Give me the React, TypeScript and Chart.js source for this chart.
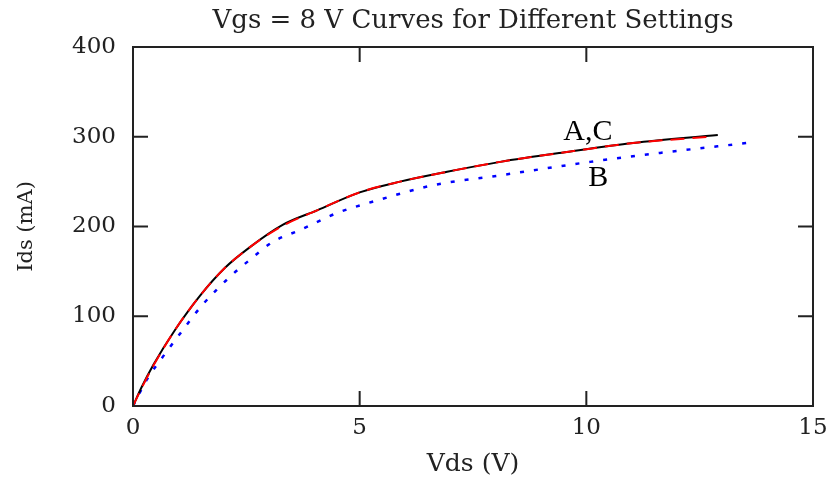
import React, { useEffect, useRef } from "react";
import { Chart, registerables } from "chart.js";

Chart.register(...registerables);

const titleText = "Vgs = 8 V Curves for Different Settings";
const xTitle = "Vds (V)";
const yTitle = "Ids (mA)";

const vdsA = [0, 0.2, 0.45, 0.93, 1.48, 2.03, 2.58, 3.31, 4.06, 5.0, 5.89, 6.93, 8.1, 9.57, 11.03, 12.9];
const idsA = [0, 22, 46, 85, 123, 154, 177, 202, 218, 238, 250, 261, 272, 283, 293, 302];

const vdsC = [0, 0.2, 0.45, 0.93, 1.48, 2.03, 2.58, 3.31, 4.06, 5.0, 5.89, 6.93, 8.1, 9.57, 11.03, 12.7];
const idsC = [0, 21, 45, 85, 123, 154, 177, 201, 218, 238, 250, 261, 272, 283, 293, 300];

const vdsB = [0, 0.3, 0.66, 1.15, 1.52, 2.14, 2.58, 3.09, 3.68, 4.5, 5.45, 6.62, 8.1, 10.08, 11.63, 13.54];
const idsB = [0, 29, 55, 88, 112, 144, 163, 183, 196, 215, 230, 246, 257, 272, 282, 293];

const labelTexts = ["A,C", "B"];
const labelX = [9.49, 10.04];
const labelY = [296, 245];

const xTicks = [0, 5, 10, 15];
const yTicks = [0, 100, 200, 300, 400];

const toPts = (xs: number[], ys: number[]) => xs.map((x, i) => ({ x, y: ys[i] }));

const boxPlugin = {
  id: "boxPlugin",
  afterDatasetsDraw(chart: any) {
    const { ctx, chartArea, scales } = chart;
    const { left, right, top, bottom } = chartArea;
    const tl = 15;
    ctx.save();
    ctx.strokeStyle = "#222";
    ctx.lineWidth = 2;
    ctx.strokeRect(left, top, right - left, bottom - top);
    ctx.beginPath();
    xTicks.forEach((v) => {
      const px = scales.x.getPixelForValue(v);
      ctx.moveTo(px, bottom);
      ctx.lineTo(px, bottom - tl);
      ctx.moveTo(px, top);
      ctx.lineTo(px, top + tl);
    });
    yTicks.forEach((v) => {
      const py = scales.y.getPixelForValue(v);
      ctx.moveTo(left, py);
      ctx.lineTo(left + tl, py);
      ctx.moveTo(right, py);
      ctx.lineTo(right - tl, py);
    });
    ctx.stroke();
    ctx.fillStyle = "#000";
    ctx.font = "30px 'Liberation Serif'";
    ctx.textAlign = "left";
    ctx.textBaseline = "alphabetic";
    labelTexts.forEach((t, i) => {
      ctx.fillText(t, scales.x.getPixelForValue(labelX[i]), scales.y.getPixelForValue(labelY[i]));
    });
    ctx.fillStyle = "#222";
    ctx.font = "26px 'DejaVu Serif'";
    ctx.textAlign = "center";
    ctx.textBaseline = "middle";
    ctx.fillText(titleText, (left + right) / 2, 21);
    ctx.restore();
  },
};

export default function App() {
  const ref = useRef<HTMLCanvasElement | null>(null);
  useEffect(() => {
    if (!ref.current) return;
    const font = { family: "'DejaVu Serif'", size: 23 };
    const chart = new Chart(ref.current, {
      type: "scatter",
      data: {
        datasets: [
          {
            label: "C",
            data: toPts(vdsC, idsC),
            showLine: true,
            borderColor: "#ff0000",
            borderWidth: 2,
            borderDash: [14, 8],
            pointRadius: 0,
            cubicInterpolationMode: "monotone",
            order: 0,
          },
          {
            label: "A",
            data: toPts(vdsA, idsA),
            showLine: true,
            borderColor: "#000000",
            borderWidth: 2,
            pointRadius: 0,
            cubicInterpolationMode: "monotone",
            order: 1,
          },
          {
            label: "B",
            data: toPts(vdsB, idsB),
            showLine: true,
            borderColor: "#0000ff",
            borderWidth: 2.5,
            borderDash: [4, 10],
            pointRadius: 0,
            cubicInterpolationMode: "monotone",
            order: 2,
          },
        ],
      },
      options: {
        animation: false,
        responsive: false,
        maintainAspectRatio: false,
        layout: { padding: { left: 0, right: 19, top: 47, bottom: 0 } },
        plugins: {
          legend: { display: false },
          tooltip: { enabled: false },
          title: { display: false },
        },
        scales: {
          x: {
            type: "linear",
            min: 0,
            max: 15,
            grid: { display: true, drawOnChartArea: false, drawTicks: false },
            border: { display: false },
            ticks: { stepSize: 5, padding: 8, color: "#222", font, maxRotation: 0 },
            title: { display: true, text: xTitle, color: "#222", font: { family: "'DejaVu Serif'", size: 25 }, padding: { top: 2, bottom: 0 } },
            afterFit: (s: any) => { s.height = 73; s.paddingRight = 0; s.paddingLeft = 0; },
          },
          y: {
            type: "linear",
            min: 0,
            max: 400,
            grid: { display: true, drawOnChartArea: false, drawTicks: false },
            border: { display: false },
            ticks: { stepSize: 100, padding: 17, color: "#222", font },
            title: { display: true, text: yTitle, color: "#222", font: { family: "'DejaVu Serif'", size: 21 }, padding: { top: 14, bottom: 0 } },
            afterFit: (s: any) => { s.width = 133; s.paddingTop = 0; s.paddingBottom = 0; },
          },
        },
      },
      plugins: [boxPlugin],
    });
    return () => chart.destroy();
  }, []);
  return (
    <div style={{ position: "absolute", left: 0, top: 0, width: 832, height: 479, background: "#fff" }}>
      <canvas ref={ref} width={832} height={479} style={{ width: 832, height: 479 }} />
    </div>
  );
}
